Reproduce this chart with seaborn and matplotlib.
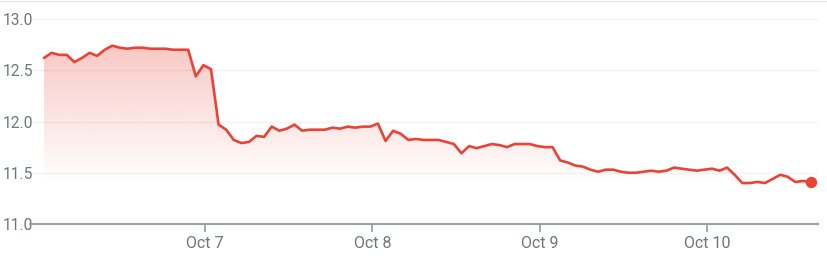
import numpy as np
import pandas as pd
import matplotlib
matplotlib.use("Agg")
import matplotlib.pyplot as plt
import matplotlib.dates as mdates
from matplotlib.colors import to_rgb
import seaborn as sns

# ---- data ----
start_time = "2024-10-06 00:56"
step = "3918s"
prices = [
    12.62, 12.67, 12.65, 12.65, 12.58, 12.62, 12.67, 12.64, 12.70, 12.74,
    12.72, 12.71, 12.72, 12.72, 12.71, 12.71, 12.71, 12.70, 12.70, 12.70,
    12.44, 12.55, 12.51, 11.97, 11.92, 11.82, 11.79, 11.80, 11.86, 11.85,
    11.95, 11.91, 11.93, 11.97, 11.91, 11.92, 11.92, 11.92, 11.94, 11.93,
    11.95, 11.94, 11.95, 11.95, 11.98, 11.81, 11.91, 11.88, 11.82, 11.83,
    11.82, 11.82, 11.82, 11.80, 11.78, 11.69, 11.76, 11.74, 11.76, 11.78,
    11.77, 11.75, 11.78, 11.78, 11.78, 11.76, 11.75, 11.75, 11.62, 11.60,
    11.57, 11.56, 11.53, 11.51, 11.53, 11.53, 11.51, 11.50, 11.50, 11.51,
    11.52, 11.51, 11.52, 11.55, 11.54, 11.53, 11.52, 11.53, 11.54, 11.52,
    11.55, 11.48, 11.40, 11.40, 11.41, 11.40, 11.44, 11.48, 11.46, 11.41,
    11.42, 11.41,
]
tick_dates = ["2024-10-07", "2024-10-08", "2024-10-09", "2024-10-10"]
tick_labels = ["Oct 7", "Oct 8", "Oct 9", "Oct 10"]
y_ticks = [11.0, 11.5, 12.0, 12.5, 13.0]
y_tick_labels = ["11.0", "11.5", "12.0", "12.5", "13.0"]

times = pd.date_range(start_time, periods=len(prices), freq=step)
df = pd.DataFrame({"time": times, "price": prices})

RED = "#ea4335"
GREY_TXT = "#70757a"
AXIS_GREY = "#9aa0a6"

sns.set_theme(style="white")
plt.rcParams["font.family"] = ["Roboto", "DejaVu Sans"]

W, H = 827, 260
fig = plt.figure(figsize=(W / 100, H / 100), dpi=100)
ax = fig.add_axes([30 / W, 36 / H, (818 - 30) / W, (224 - 19) / H])

x = mdates.date2num(df["time"])
y = df["price"].to_numpy()

# gradient fill under the line
y_bottom = 11.0
poly = ax.fill_between(x, y, y_bottom, color="none", lw=0)
ymax_g, ymin_g = 12.78, 11.40
grad = np.linspace(1, 0, 256).reshape(-1, 1)
rgba = np.zeros((256, 1, 4))
rgba[..., :3] = to_rgb(RED)
rgba[..., 3] = grad * 0.30
img = ax.imshow(rgba, extent=[x[0], x[-1], ymin_g, ymax_g], aspect="auto",
                origin="upper", zorder=1)
path = poly.get_paths()[0]
img.set_clip_path(path, transform=ax.transData)

sns.lineplot(data=df, x="time", y="price", ax=ax, color=RED, lw=1.9, zorder=3)
ax.plot(df["time"].iloc[-1], df["price"].iloc[-1], "o", color=RED,
        markersize=7.2, zorder=4)

day = 1.0 / 167.2
ax.set_xlim(x[0] - 14 * day, x[-1] + 7.4 * day)
ax.set_ylim(11.0, 13.0)

ax.set_xticks(mdates.date2num(pd.to_datetime(tick_dates)))
ax.set_xticklabels(tick_labels)
ax.set_yticks(y_ticks)
ax.set_yticklabels(y_tick_labels)
ax.set_xlabel("")
ax.set_ylabel("")

for s in ["top", "right", "left"]:
    ax.spines[s].set_visible(False)
ax.spines["bottom"].set_color(AXIS_GREY)
ax.spines["bottom"].set_linewidth(1.5)

ax.grid(axis="y", color="#f3f3f3", lw=1.0)
ax.grid(axis="x", visible=False)
ax.set_axisbelow(True)

ax.tick_params(axis="x", length=6, width=1.3, color=AXIS_GREY, direction="out",
               labelsize=11.5, labelcolor=GREY_TXT, pad=3, bottom=True)
ax.tick_params(axis="y", length=0, labelsize=11.2, labelcolor=GREY_TXT, pad=19.5, left=True)
for lab in ax.get_yticklabels():
    lab.set_horizontalalignment("left")

# faint top border line
fig.add_artist(plt.Line2D([0, 1], [1 - 1 / H, 1 - 1 / H], color="#e6e6e6", lw=1,
                          transform=fig.transFigure))

fig.savefig("out.png", dpi=100)
